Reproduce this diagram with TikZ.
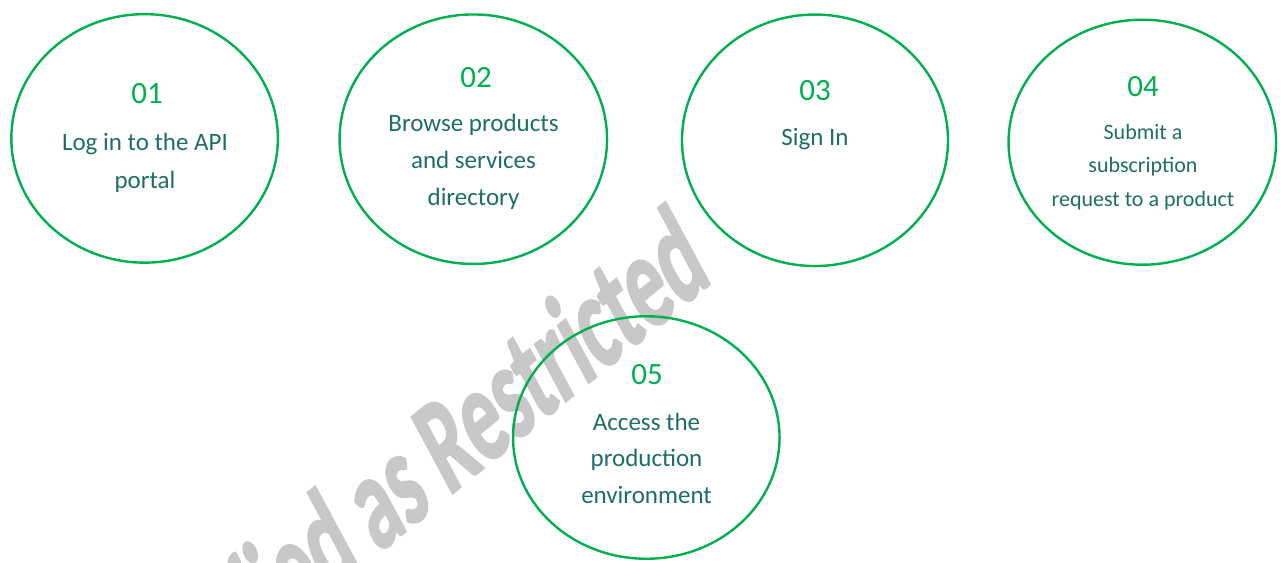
\documentclass[tikz,border=0pt]{standalone}
\usepackage{fontspec}
\setmainfont{Carlito}
\newfontfamily\wmfont[FakeBold=2]{Carlito Bold}
\usetikzlibrary{shapes.geometric}
\definecolor{ringgreen}{RGB}{0,176,80}
\definecolor{numgreen}{RGB}{0,176,80}
\definecolor{textteal}{RGB}{30,110,104}
\definecolor{wmgray}{RGB}{200,200,200}
\begin{document}
\begin{tikzpicture}[x=1pt,y=-1pt,
  ring/.style={ellipse, draw=ringgreen, line width=2.4pt, inner sep=0pt},
  num/.style={anchor=base, inner sep=0pt, text=numgreen, font=\fontsize{31}{31}\selectfont},
  desc/.style={anchor=base, inner sep=0pt, text=textteal, font=\fontsize{25}{25}\selectfont},
  descsmall/.style={desc, font=\fontsize{22}{22}\selectfont}]
\useasboundingbox (0,0) rectangle (1287,562);
% watermark
\begin{scope}
  \clip (0,0) rectangle (1287,562);
  \begin{scope}[shift={(715,280)}, cm={6.34,5.15,-6.3,11.7,(0,0)}]
    \node[transform shape, anchor=base east, inner sep=0pt, text=wmgray,
          font=\fontsize{10}{10}\wmfont] (wm) at (0,0) {Classified as Restricted};
  \end{scope}
\end{scope}
% rings
\node[ring, minimum width=266.5pt, minimum height=248.5pt] (e1) at (144.6,138.4) {};
\node[ring, minimum width=267.5pt, minimum height=249.5pt] (e2) at (473.3,139.2) {};
\node[ring, minimum width=266pt, minimum height=251.5pt] (e3) at (815,140.3) {};
\node[ring, minimum width=267.5pt, minimum height=245pt] (e4) at (1142.3,142.2) {};
\node[ring, minimum width=266.5pt, minimum height=242.5pt] (e5) at (646.3,437.5) {};
% box 1
\node[num] (n1) at (147,103) {01};
\node[desc] (t1a) at (145,150) {Log in to the API};
\node[desc] (t1b) at (145,188) {portal};
% box 2
\node[num] (n2) at (476,87) {02};
\node[desc] (t2a) at (473.5,131.5) {Browse products};
\node[desc] (t2b) at (473.5,168) {and services};
\node[desc] (t2c) at (473.5,205) {directory};
% box 3
\node[num] (n3) at (815,100) {03};
\node[desc] (t3a) at (815,145) {Sign In};
% box 4
\node[num] (n4) at (1143,96.5) {04};
\node[descsmall] (t4a) at (1143,139.3) {Submit a};
\node[descsmall] (t4b) at (1143,172.7) {subscription};
\node[descsmall] (t4c) at (1143,206) {request to a product};
% box 5
\node[num] (n5) at (647,384) {05};
\node[desc] (t5a) at (646.5,430) {Access the};
\node[desc] (t5b) at (646.5,466.7) {production};
\node[desc] (t5c) at (646.5,503.3) {environment};
\end{tikzpicture}
\end{document}
